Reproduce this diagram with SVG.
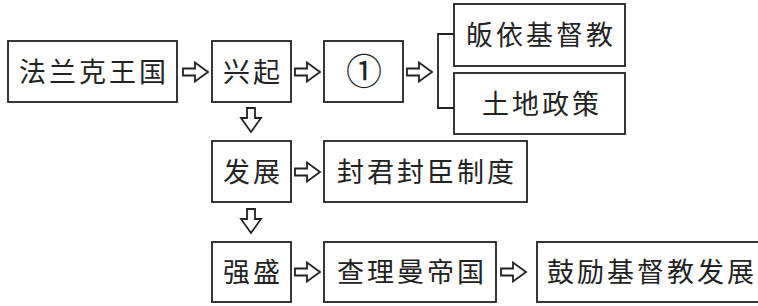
<svg xmlns="http://www.w3.org/2000/svg" xmlns:xlink="http://www.w3.org/1999/xlink" width="758" height="306" viewBox="0 0 758 306">
<style>
.box{fill:#fff;stroke:#222;stroke-width:1.8}
.t{font-family:"Noto Sans CJK SC","Noto Sans",sans-serif;font-size:27px;fill:#222;text-anchor:middle;letter-spacing:3px}
.c{font-family:"Noto Sans CJK SC","Noto Sans",sans-serif;font-size:36px;fill:#222;text-anchor:middle}
.arr{fill:#fff;stroke:#222;stroke-width:1.8;stroke-linejoin:miter}
.ln{fill:none;stroke:#222;stroke-width:1.8}
</style>
<defs>
<path id="ra" class="arr" d="M0,-3.5 H12 V-9.5 L25,0 L12,9.5 V3.5 H0 Z"/>
<path id="da" class="arr" d="M-4,0 V10 H-10 L0,24 L10,10 H4 V0 Z"/>
</defs>
<rect width="758" height="306" fill="#fff"/>
<g id="n1"><rect class="box" x="8" y="41" width="169" height="61"/><text class="t" x="94" y="82">法兰克王国</text></g>
<g id="n2"><rect class="box" x="212" y="41" width="79" height="61"/><text class="t" x="253" y="82">兴起</text></g>
<g id="n3"><rect class="box" x="324" y="41" width="79" height="61"/><text class="c" x="364" y="85">①</text></g>
<g id="n4"><rect class="box" x="454" y="4" width="171" height="62"/><text class="t" x="541" y="45">皈依基督教</text></g>
<g id="n5"><rect class="box" x="454" y="73" width="171" height="61"/><text class="t" x="542" y="114">土地政策</text></g>
<g id="n6"><rect class="box" x="212" y="141" width="79" height="61"/><text class="t" x="253" y="182">发展</text></g>
<g id="n7"><rect class="box" x="324" y="141" width="203" height="61"/><text class="t" x="427" y="182">封君封臣制度</text></g>
<g id="n8"><rect class="box" x="212" y="242" width="79" height="60"/><text class="t" x="253" y="282">强盛</text></g>
<g id="n9"><rect class="box" x="324" y="242" width="172" height="60"/><text class="t" x="412" y="282">查理曼帝国</text></g>
<g id="n10"><rect class="box" x="537" y="242" width="230" height="60"/><text class="t" x="652" y="282">鼓励基督教发展</text></g>
<g id="connectors">
<use xlink:href="#ra" x="183" y="72"/>
<use xlink:href="#ra" x="295" y="72"/>
<use xlink:href="#ra" x="407" y="72"/>
<use xlink:href="#ra" x="295" y="172"/>
<use xlink:href="#ra" x="295" y="272"/>
<use xlink:href="#ra" x="501" y="272"/>
<use xlink:href="#da" x="251" y="108"/>
<use xlink:href="#da" x="251" y="209"/>
<path class="ln" d="M454,34 H438 V108 H454"/>
</g>
</svg>
